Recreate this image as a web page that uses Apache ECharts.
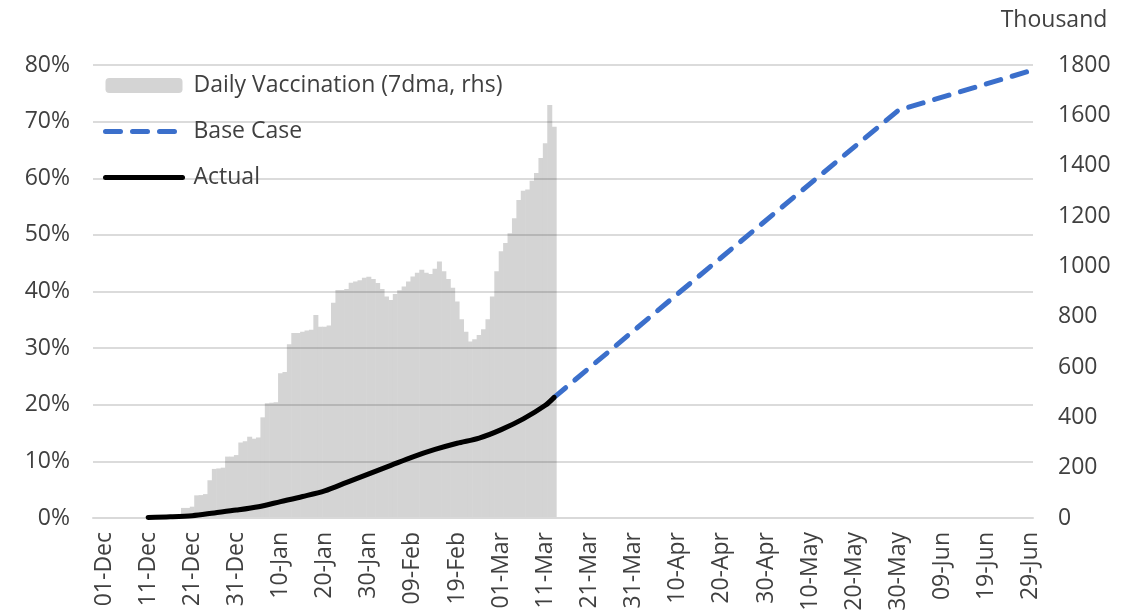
<!DOCTYPE html>
<html>
<head>
<meta charset="utf-8">
<script src="https://cdn.jsdelivr.net/npm/echarts@6/dist/echarts.min.js"></script>
<style>
  html, body { margin: 0; padding: 0; background: #fff; }
  #chart { width: 1140px; height: 616px; }
</style>
</head>
<body>
<div id="chart"></div>
<script>
// x axis runs daily, 29-Nov-2020 .. 29-Jun-2021, labels every 10 days from 01-Dec
const MONTHS = ['Jan','Feb','Mar','Apr','May','Jun','Jul','Aug','Sep','Oct','Nov','Dec']
const axisStart = new Date(2020, 10, 29)
const axisDays = 213
const firstLabel = '01-Dec'

// daily vaccination, 7dma, thousand (rhs) - one value per day from 19-Dec
const vaccStart = '19-Dec'
const dailyVacc = [
  40, 40, 45, 90, 91, 95, 150, 195, 197, 200,
  244, 244, 250, 300, 305, 323, 315, 320, 400, 456,
  458, 460, 575, 580, 690, 735, 735, 740, 745, 748,
  807, 760, 760, 765, 855, 906, 906, 910, 935, 940,
  945, 955, 959, 950, 934, 910, 880, 866, 890, 905,
  920, 940, 960, 975, 986, 975, 970, 990, 1019, 980,
  950, 915, 860, 790, 740, 701, 710, 727, 750, 790,
  880, 980, 1060, 1093, 1131, 1191, 1264, 1300, 1305, 1340,
  1371, 1430, 1489, 1641, 1555
]

// share of population vaccinated, % (lhs)
const actualDates = ['11-Dec','16-Dec','21-Dec','26-Dec','31-Dec','05-Jan','10-Jan','15-Jan','20-Jan','25-Jan',
  '30-Jan','04-Feb','09-Feb','14-Feb','19-Feb','24-Feb','01-Mar','06-Mar','11-Mar','13-Mar']
const actualVals = [0.1, 0.2, 0.4, 0.9, 1.4, 2.0, 2.9, 3.8, 4.8, 6.3,
  7.8, 9.3, 10.8, 12.1, 13.2, 14.1, 15.6, 17.5, 19.9, 21.3]

const baseDates = ['13-Mar', '10-Apr', '30-May', '29-Jun']
const baseVals = [21.3, 39.6, 72, 79]

function fmt(d) {
  return String(d.getDate()).padStart(2, '0') + '-' + MONTHS[d.getMonth()]
}

let days = []
for (let i = 0; i < axisDays; i++) {
  let d = new Date(axisStart.getTime())
  d.setDate(d.getDate() + i)
  days.push(fmt(d))
}
const labelStart = days.indexOf(firstLabel)

function sparse(dates, vals) {
  let out = days.map(() => null)
  dates.forEach((d, i) => { out[days.indexOf(d)] = vals[i] })
  return out
}

let barData = days.map(() => null)
let v0 = days.indexOf(vaccStart)
dailyVacc.forEach((v, i) => { barData[v0 + i] = v })

const font = '"Open Sans", "Noto Sans", sans-serif'
const txt = '#404040'
const gridCol = '#d9d9d9'
const blue = '#3b6fcb'
const baseDash = [15, 12]

let myChart = echarts.init(document.getElementById('chart'))
myChart.setOption({
  animation: false,
  textStyle: { fontFamily: font },
  grid: { left: 93, right: 107, top: 65, bottom: 98 },
  legend: {
    orient: 'vertical',
    left: 103,
    top: 72,
    padding: 0,
    itemWidth: 77,
    itemHeight: 15,
    itemGap: 19,
    zlevel: 1,
    textStyle: { fontSize: 23, color: txt, fontFamily: font, lineHeight: 27, padding: [0, 0, 0, 6] },
    data: [
      { name: 'Daily Vaccination (7dma, rhs)' },
      { name: 'Base Case', itemStyle: { opacity: 0 }, lineStyle: { color: blue, width: 5, type: baseDash, cap: 'round' } },
      { name: 'Actual', itemStyle: { opacity: 0 }, lineStyle: { color: '#000', width: 5, cap: 'round' } }
    ]
  },
  xAxis: {
    type: 'category',
    data: days,
    boundaryGap: true,
    zlevel: 1,
    axisLine: { lineStyle: { color: gridCol, width: 2 } },
    axisTick: { show: false },
    axisLabel: {
      rotate: 90,
      fontSize: 23,
      color: txt,
      margin: 14,
      interval: (i) => i >= labelStart && (i - labelStart) % 10 === 0
    },
    splitLine: { show: false }
  },
  yAxis: [{
    type: 'value',
    min: 0, max: 80, interval: 10,
    zlevel: 1,
    axisLabel: { formatter: '{value}%', fontSize: 23, color: txt, margin: 23 },
    axisLine: { show: false },
    axisTick: { show: false },
    splitLine: { lineStyle: { color: 'rgba(0,0,0,0.14)', width: 2 } }
  }, {
    type: 'value',
    min: 0, max: 1800, interval: 200,
    position: 'right',
    zlevel: 1,
    name: 'Thousand',
    nameLocation: 'end',
    nameGap: 33,
    nameTextStyle: { fontSize: 23, color: txt, padding: [0, 0, 0, 42] },
    axisLabel: { formatter: (v) => String(v), fontSize: 23, color: txt, margin: 25 },
    axisLine: { show: false },
    axisTick: { show: false },
    splitLine: { show: false }
  }],
  series: [{
    name: 'Daily Vaccination (7dma, rhs)',
    type: 'bar',
    yAxisIndex: 1,
    data: barData,
    barWidth: 5,
    itemStyle: { color: '#d4d4d4' },
    zlevel: 0
  }, {
    name: 'Base Case',
    type: 'line',
    data: sparse(baseDates, baseVals),
    connectNulls: true,
    showSymbol: false,
    symbol: 'none',
    lineStyle: { color: blue, width: 5, type: baseDash, cap: 'round' },
    itemStyle: { color: blue },
    zlevel: 1,
    z: 5
  }, {
    name: 'Actual',
    type: 'line',
    data: sparse(actualDates, actualVals),
    connectNulls: true,
    smooth: 0.3,
    showSymbol: false,
    symbol: 'none',
    lineStyle: { color: '#000', width: 5, cap: 'round' },
    itemStyle: { color: '#000' },
    zlevel: 1,
    z: 6
  }]
})
window.onresize = function() {
  myChart.resize()
}
</script>
</body>
</html>
